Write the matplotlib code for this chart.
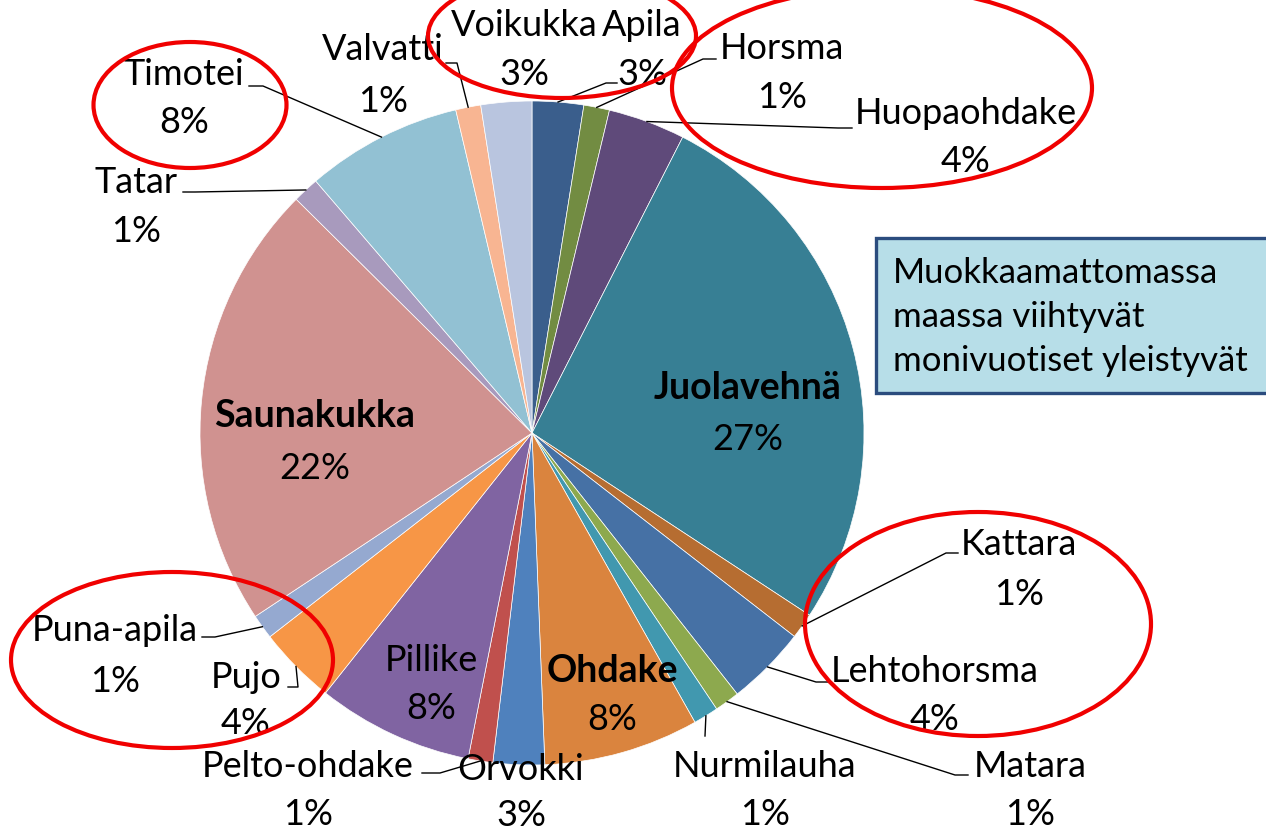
import matplotlib
matplotlib.use("Agg")
import matplotlib.pyplot as plt
from matplotlib.patches import Ellipse, Rectangle
import numpy as np

# ---------------- data ----------------
names = ["Apila", "Horsma", "Huopaohdake", "Juolavehnä", "Kattara", "Lehtohorsma",
         "Matara", "Nurmilauha", "Ohdake", "Orvokki", "Pelto-ohdake", "Pillike",
         "Pujo", "Puna-apila", "Saunakukka", "Tatar", "Timotei", "Valvatti", "Voikukka"]
values = [2.5, 1.25, 3.75, 26.75, 1.25, 3.9, 1.22, 1.22, 7.55, 2.5, 1.2, 7.6,
          3.8, 1.2, 21.75, 1.28, 7.6, 1.22, 2.47]
pct_labels = [3, 1, 4, 27, 1, 4, 1, 1, 8, 3, 1, 8, 4, 1, 22, 1, 8, 1, 3]
bold_names = ["Juolavehnä", "Saunakukka", "Ohdake"]
box_text = ["Muokkaamattomassa", "maassa viihtyvät", "monivuotiset yleistyvät"]

colors = ["#3A5E8C", "#728C42", "#5F4A7A", "#377F94", "#B66D31", "#4671A5",
          "#8DA94E", "#4198AF", "#DA843E", "#4F81BD", "#C0504D", "#8064A2",
          "#F79646", "#95A9D0", "#D09290", "#A89ABD", "#92C1D3", "#F8B592", "#B9C5DF"]

# ---------------- layout (pixel coordinates, y from top) ----------------
W, H = 1266, 832
def Y(py):
    return H - py

center_px = (532, 433)
radius = 332

# label: x center, name baseline, pct baseline
label_pos = {
    "Apila": (642, 36, 85), "Horsma": (782, 59, 108), "Huopaohdake": (966, 124, 172),
    "Juolavehnä": (748, 399, 450), "Kattara": (1019, 555, 605),
    "Lehtohorsma": (935, 682, 730), "Matara": (1030, 777, 825),
    "Nurmilauha": (765, 777, 825), "Ohdake": (612, 682, 730),
    "Orvokki": (521, 780, 826), "Pelto-ohdake": (308, 777, 825),
    "Pillike": (431, 671, 719), "Pujo": (246, 688, 734),
    "Puna-apila": (115, 641, 692), "Saunakukka": (315, 427, 479),
    "Tatar": (136, 193, 242), "Timotei": (184, 85, 133),
    "Valvatti": (383, 60, 112), "Voikukka": (524, 36, 85),
}
# leader line waypoints after the slice edge point
leaders = {
    "Apila": [(606, 83), (617, 83)],
    "Horsma": [(703, 59), (716, 59)],
    "Huopaohdake": [(838, 128), (852, 128)],
    "Kattara": [(946, 553), (958, 553)],
    "Lehtohorsma": [(816, 682), (828, 682)],
    "Matara": [(955, 775), (968, 775)],
    "Nurmilauha": [(705, 736)],
    "Pelto-ohdake": [(440, 773), (422, 773)],
    "Pujo": [(298, 687), (288, 687)],
    "Puna-apila": [(215, 637), (202, 637)],
    "Tatar": [(195, 192), (183, 192)],
    "Timotei": [(263, 86), (249, 86)],
    "Valvatti": [(457, 63), (446, 63)],
}
ellipses = [((562, 36), 268, 124), ((882, 88), 420, 200), ((190, 105), 193, 126),
            ((978, 624), 346, 224), ((172, 660), 322, 176)]

FONT = "Lato"
FS = 26
FS_BOLD = 27
FS_BOX = 25

fig = plt.figure(figsize=(W / 100, H / 100), dpi=100)
ax = fig.add_axes([0, 0, 1, 1])

wedges, _ = ax.pie(values, colors=colors, startangle=90, counterclock=False,
                   center=(center_px[0], Y(center_px[1])), radius=radius,
                   wedgeprops=dict(edgecolor="white", linewidth=0.5))

cx, cy = center_px[0], Y(center_px[1])
for w, name, pct in zip(wedges, names, pct_labels):
    x, yn, yp = label_pos[name]
    is_bold = name in bold_names
    ax.text(x, Y(yn), name, ha="center", va="baseline",
            fontsize=FS_BOLD if is_bold else FS,
            family=FONT, fontweight="bold" if is_bold else "normal",
            color="black", zorder=5)
    ax.text(x, Y(yp), f"{pct}%", ha="center", va="baseline", fontsize=FS,
            family=FONT, color="black", zorder=5)
    if name in leaders:
        th = np.deg2rad((w.theta1 + w.theta2) / 2)
        pts = [(cx + radius * np.cos(th), cy + radius * np.sin(th))]
        pts += [(px, Y(py)) for px, py in leaders[name]]
        xs, ys = zip(*pts)
        ax.plot(xs, ys, color="black", lw=1.0, zorder=4)

for (ex, ey), ew, eh in ellipses:
    ax.add_patch(Ellipse((ex, Y(ey)), ew, eh, fill=False, edgecolor="#F00000",
                         lw=3.0, zorder=6))

# text box
ax.add_patch(Rectangle((876, Y(393)), 420, 155, facecolor="#B7DEE8",
                       edgecolor="#2B4C7E", lw=2.4, zorder=3))
for i, line in enumerate(box_text):
    ax.text(893, Y(283 + 44 * i), line, ha="left", va="baseline", fontsize=FS_BOX,
            family=FONT, color="black", zorder=5)

ax.set_xlim(0, W)
ax.set_ylim(0, H)
ax.set_aspect("equal")
ax.axis("off")
fig.savefig("out.png", dpi=100)
